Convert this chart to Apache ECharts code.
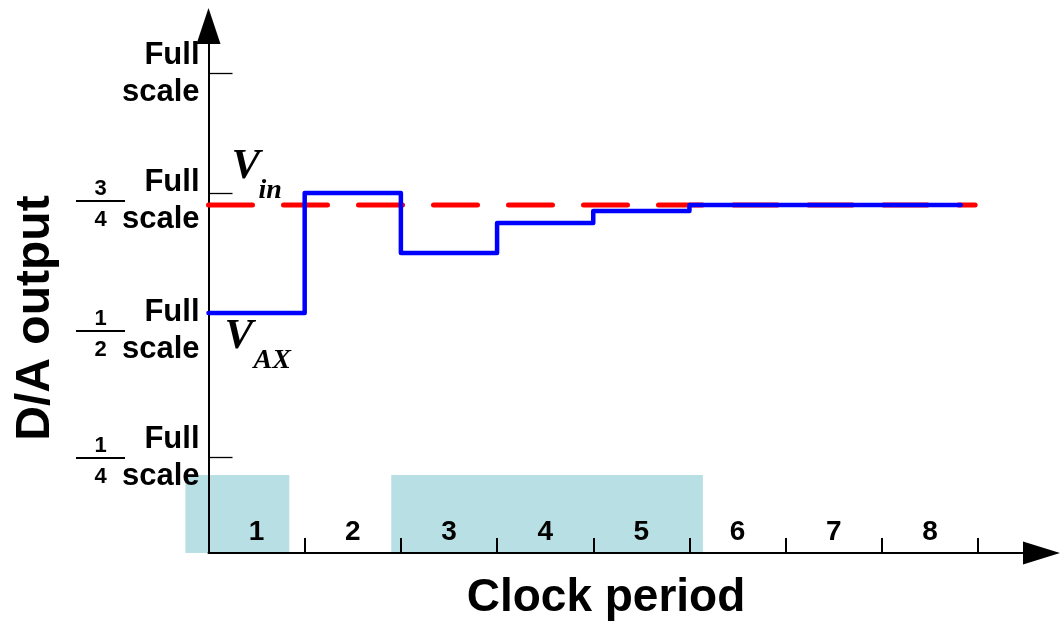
<!DOCTYPE html>
<html>
<head>
<meta charset="utf-8">
<script src="https://cdn.jsdelivr.net/npm/echarts@6/dist/echarts.min.js"></script>
<style>
html, body { margin: 0; padding: 0; background: #fff; }
#daChart { width: 1063px; height: 628px; }
</style>
</head>
<body>
<div id="daChart"></div>
<script>

var periodLabels = ['1', '2', '3', '4', '5', '6', '7', '8'];
var periodEdges = [1, 2, 3, 4, 5, 6, 7, 8];
var periodCenters = [0.5, 1.5, 2.5, 3.5, 4.5, 5.5, 6.5, 7.5];

// D/A output level in each clock period (fraction of full scale)
var blueLevels = [0.5, 0.75, 0.625, 0.6875, 0.7125, 0.725, 0.725, 0.725];
var blueEnd = 7.82;
var vinLevel = 0.725;
var vinEnd = 7.97;

var yTickValues = [0.2, 0.5, 0.75, 1.0];
var fracNum = ['1', '1', '3', ''];
var fracDen = ['4', '2', '4', ''];

var shadeStart = [-0.24, 1.9];
var shadeEnd = [0.84, 5.14];
var shadeTop = 0.1625;

var annotValue = [vinLevel, blueLevels[0]];
var annotSub = ['in', 'AX'];

var sans = '"Liberation Sans", Arial, sans-serif';
var serif = '"Liberation Serif", "Times New Roman", serif';

function showDaChart() {

	var myChart = echarts.init(document.getElementById('daChart'));

	var bluePoints = [];
	for (var i = 0; i < blueLevels.length; i++) {
		bluePoints.push([i, blueLevels[i]]);
	}
	bluePoints.push([blueEnd, blueLevels[blueLevels.length - 1]]);

	var shadeData = [];
	for (var k = 0; k < shadeStart.length; k++) {
		shadeData.push([shadeStart[k], shadeEnd[k]]);
	}

	// "Full" line middle relative to each tick, same order as yTickValues (px)
	var fullShift = [-18, -1, -11, -18];

	var option = {
		backgroundColor: '#ffffff',
		animation: false,
		grid: {
			left: 208.5,
			right: 21.5,
			top: 26,
			bottom: 75,
			outerBoundsMode: 'none'
		},
		xAxis: {
			type: 'value',
			min: 0,
			max: 8.66,
			z: 3,
			splitLine: { show: false },
			axisLine: {
				show: true,
				onZero: false,
				symbol: ['none', 'triangle'],
				symbolSize: [23, 37],
				lineStyle: { color: '#000', width: 2 }
			},
			axisTick: {
				show: true,
				inside: true,
				length: 15,
				customValues: periodEdges,
				lineStyle: { color: '#000', width: 2 }
			},
			axisLabel: {
				show: true,
				inside: true,
				margin: 7,
				customValues: periodCenters,
				formatter: function (v) {
					return periodLabels[Math.round(v - 0.5)];
				},
				color: '#000',
				fontFamily: sans,
				fontWeight: 'bold',
				fontSize: 28
			}
		},
		yAxis: {
			type: 'value',
			min: 0,
			max: 1.098,
			z: 3,
			splitLine: { show: false },
			axisLine: {
				show: true,
				onZero: false,
				symbol: ['none', 'triangle'],
				symbolSize: [24, 36],
				lineStyle: { color: '#000', width: 2 }
			},
			axisTick: {
				show: true,
				inside: true,
				length: 24,
				customValues: yTickValues,
				lineStyle: { color: '#000', width: 1.3 }
			},
			axisLabel: { show: false }
		},
		graphic: [
			{
				type: 'text',
				x: 36,
				y: 318,
				rotation: Math.PI / 2,
				style: {
					text: 'D/A output',
					fill: '#000',
					font: 'bold 48px ' + sans,
					align: 'center',
					verticalAlign: 'middle'
				}
			},
			{
				type: 'text',
				x: 606,
				y: 598,
				style: {
					text: 'Clock period',
					fill: '#000',
					font: 'bold 46px ' + sans,
					align: 'center',
					verticalAlign: 'middle'
				}
			}
		],
		series: [
			{
				name: 'active periods',
				type: 'custom',
				z: 1,
				clip: false,
				data: shadeData,
				renderItem: function (params, api) {
					var p0 = api.coord([api.value(0), shadeTop]);
					var p1 = api.coord([api.value(1), 0]);
					return {
						type: 'rect',
						shape: { x: p0[0], y: p0[1], width: p1[0] - p0[0], height: p1[1] - p0[1] },
						style: { fill: '#b8dfe3' }
					};
				}
			},
			{
				name: 'Vin',
				type: 'line',
				z: 4,
				clip: false,
				symbol: 'none',
				data: [[0, vinLevel], [vinEnd, vinLevel]],
				lineStyle: { color: '#ff0000', width: 5, type: [44, 31], cap: 'round' }
			},
			{
				name: 'VAX',
				type: 'line',
				step: 'end',
				z: 5,
				clip: false,
				symbol: 'none',
				data: bluePoints,
				lineStyle: { color: '#0000ff', width: 4.5, cap: 'round', join: 'round' }
			},
			{
				name: 'scale labels',
				type: 'custom',
				z: 6,
				clip: false,
				data: yTickValues.map(function (v) { return [0, v]; }),
				renderItem: function (params, api) {
					var i = params.dataIndex;
					var p = api.coord([0, api.value(1)]);
					var mid = p[1] + fullShift[i];
					var right = p[0] - 9;
					var kids = [
						{ type: 'text', style: { x: right, y: mid, text: 'Full', fill: '#000', font: 'bold 31px ' + sans, align: 'right', verticalAlign: 'middle' } },
						{ type: 'text', style: { x: right, y: mid + 37, text: 'scale', fill: '#000', font: 'bold 31px ' + sans, align: 'right', verticalAlign: 'middle' } }
					];
					if (fracNum[i]) {
						var lineY = mid + 19;
						kids.push({ type: 'line', shape: { x1: p[0] - 132.5, y1: lineY, x2: p[0] - 83.5, y2: lineY }, style: { stroke: '#000', lineWidth: 2 } });
						kids.push({ type: 'text', style: { x: p[0] - 108, y: lineY - 12, text: fracNum[i], fill: '#000', font: 'bold 22px ' + sans, align: 'center', verticalAlign: 'middle' } });
						kids.push({ type: 'text', style: { x: p[0] - 108, y: lineY + 19, text: fracDen[i], fill: '#000', font: 'bold 22px ' + sans, align: 'center', verticalAlign: 'middle' } });
					}
					return { type: 'group', children: kids };
				}
			},
			{
				name: 'annotations',
				type: 'custom',
				z: 6,
				clip: false,
				data: annotValue.map(function (v) { return [0, v]; }),
				renderItem: function (params, api) {
					var i = params.dataIndex;
					var p = api.coord([0, api.value(1)]);
					var vx = i === 0 ? p[0] + 23 : p[0] + 16;
					var vy = i === 0 ? p[1] - 38 : p[1] + 24;
					var sx = i === 0 ? p[0] + 50 : p[0] + 45;
					var sy = i === 0 ? p[1] - 14 : p[1] + 48;
					return {
						type: 'group',
						children: [
							{ type: 'text', style: { x: vx, y: vy, text: 'V', fill: '#000', font: 'italic bold 43px ' + serif, align: 'left', verticalAlign: 'middle' } },
							{ type: 'text', style: { x: sx, y: sy, text: annotSub[i], fill: '#000', font: 'italic bold 28px ' + serif, align: 'left', verticalAlign: 'middle' } }
						]
					};
				}
			}
		]
	};

	myChart.setOption(option);
}

showDaChart();

</script>
</body>
</html>
